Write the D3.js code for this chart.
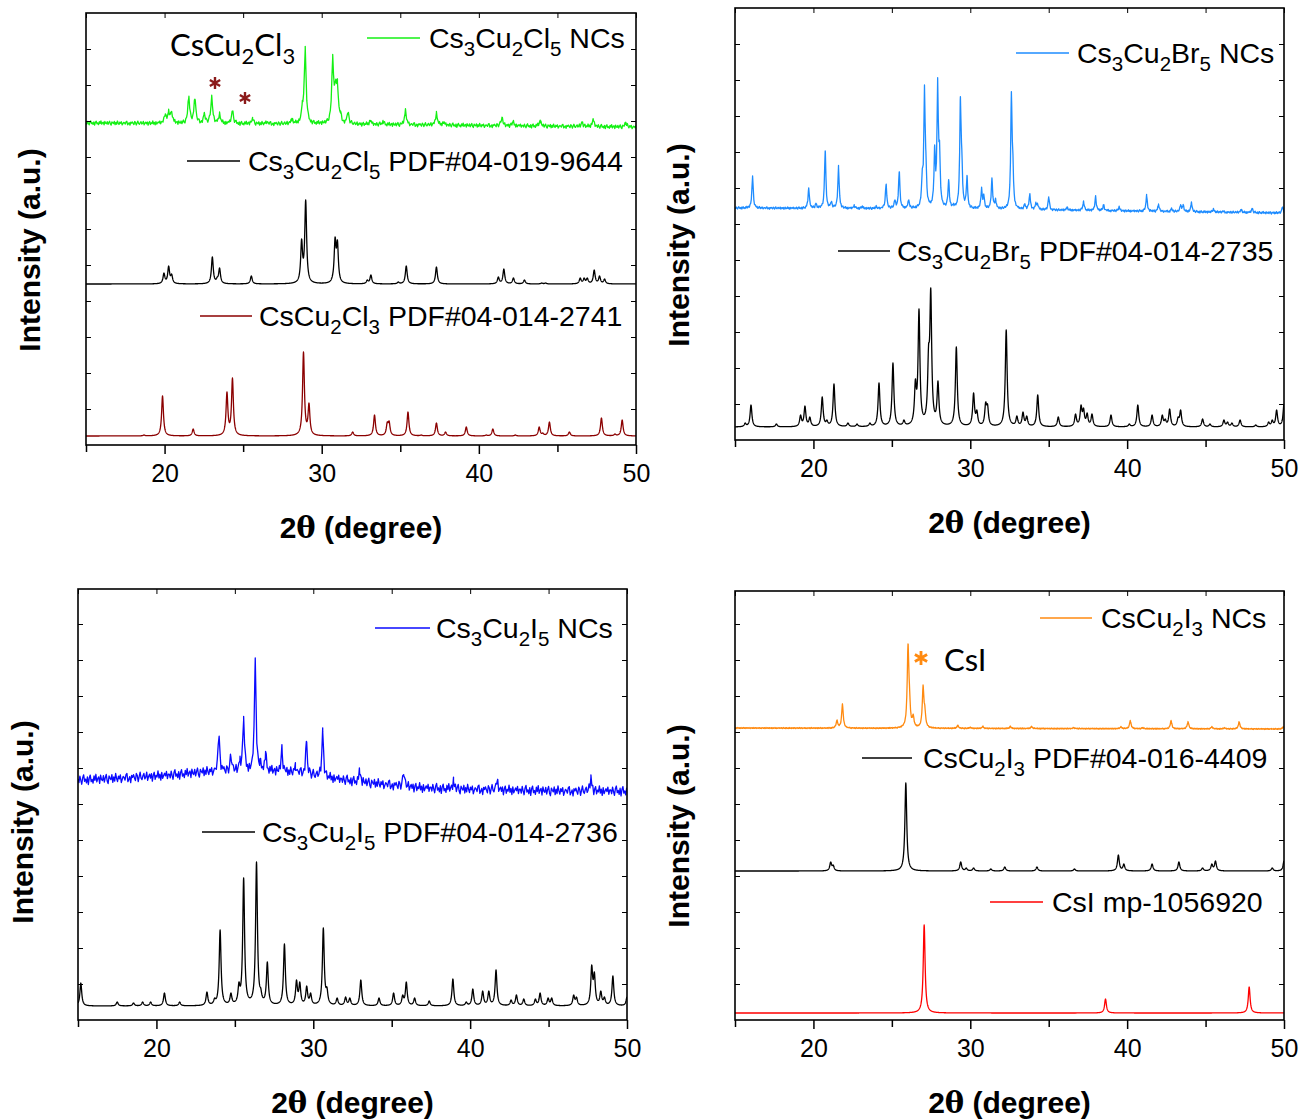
<!DOCTYPE html>
<html>
<head>
<meta charset="utf-8">
<script src="https://cdn.jsdelivr.net/npm/d3@7"></script>
<style>
  body { margin: 0; background: #fff; }
  svg { font-family: Arial, "Liberation Sans", sans-serif; }
</style>
</head>
<body>
<script>
// ---- data: peaks as [2theta, apex height (a.u.)], backgrounds as [2theta, level] ----

// Cs3Cu2Cl5 panel
var clNCsPeaks = [[20.03,9],[20.26,13],[20.45,12],[21.54,27],[21.93,26],[22.53,10],[23.0,27],[23.5,10],
  [24.32,13],[25.6,5],[26.5,2],[28.1,5],[28.77,22],[28.95,76],[30.7,69],[30.88,45],[31.0,44],[31.2,12],
  [31.67,12],[33.1,4],[33.9,3],[35.33,14],[37.3,12],[37.76,3],[41.47,8],[42.17,4],[43.9,5],[46.57,4],
  [47.27,7],[49.35,4]];
var clNCsBg = [[15,322],[30,321],[50,318]];
var clPdfPeaks = [[19.96,11],[20.26,18],[20.45,10],[23.04,27],[23.35,7],[23.5,16],[25.52,8],[28.72,45],
  [28.98,84],[30.69,9],[30.85,47],[31.0,44],[32.9,4],[33.13,9],[34.87,2],[35.38,18],[37.3,17],[41.24,7],
  [41.59,15],[42.2,6],[42.9,4],[44.0,1],[44.25,1],[46.45,6],[46.7,6],[46.9,6],[47.34,14],[47.68,8],[48.0,5]];
var clPdfBg = [[15,161],[50,161]];
var cuClPdfPeaks = [[18.69,1],[19.87,40],[21.82,7],[23.97,44],[24.32,58],[28.84,84],[29.19,33],[31.97,4],
  [33.36,21],[34.17,14],[34.29,15],[35.49,24],[36.33,1],[37.3,13],[37.88,4],[39.2,9],[40.47,1],[40.89,7],
  [42.32,1],[43.84,9],[44.07,3],[44.49,14],[45.76,4],[47.8,18],[48.66,2],[49.12,16]];
var cuClPdfBg = [[15,9],[50,9]];

// Cs3Cu2Br5 panel
var brNCsPeaks = [[16.12,32],[19.7,20],[20.16,5],[20.75,58],[21.14,7],[21.6,42],[22.6,3],[23.1,2],[24.0,2],
  [24.63,25],[25.19,9],[25.47,38],[26.07,9],[26.94,40],[27.08,124],[27.17,57],[27.73,64],[27.92,131],
  [28.04,69],[28.62,29],[28.93,5],[29.37,113],[29.46,60],[29.79,33],[30.72,21],[30.86,15],[31.38,31],
  [31.61,11],[32.62,117],[32.71,59],[33.48,6],[33.79,16],[34.18,7],[34.3,6],[35.0,13],[36.17,3],[37.22,9],
  [37.99,14],[38.5,6],[39.49,4],[41.24,16],[42.0,7],[42.83,3],[43.41,7],[43.57,7],[44.1,9],[45.5,3],
  [46.1,1],[47.27,3],[47.97,4],[49.9,6]];
var brNCsBg = [[15,232],[30,231],[40,229],[50,227]];
var brPdfPeaks = [[15.65,4],[16.02,22],[17.64,3],[19.18,12],[19.46,21],[19.77,10],[20.56,30],[20.86,7],
  [21.31,43],[22.2,4],[22.78,3],[23.6,4],[24.18,44],[25.07,64],[25.77,7],[26.5,48],[26.73,118],[27.34,82],
  [27.48,139],[27.69,17],[27.94,46],[29.11,80],[30.21,34],[30.42,17],[30.98,25],[31.1,23],[32.29,97],
  [32.97,11],[33.36,15],[33.6,11],[34.3,32],[35.61,10],[36.71,13],[37.06,22],[37.22,19],[37.45,14],
  [37.76,13],[38.97,12],[40.14,3],[40.68,22],[41.59,12],[42.24,12],[42.43,8],[42.71,18],[43.25,10],
  [43.41,17],[44.81,8],[45.28,3],[46.17,7],[46.4,5],[46.68,4],[47.2,7],[48.2,2],[49.02,5],[49.25,7],
  [49.53,17],[50.0,23]];
var brPdfBg = [[15,13],[50,13]];

// Cs3Cu2I5 panel
var iNCsPeaks = [[23.99,38],[24.75,15],[25.33,12],[25.56,54],[26.3,112],[26.6,10],[26.96,18],[28.0,23],
  [28.86,7],[29.56,33],[30.6,47],[32.96,10],[35.77,13],[38.94,8],[41.72,9],[47.7,14]];
var iNCsBg = [[15,240],[18,242],[21,245],[23,248],[25,249],[27,249],[29,247],[31,242],[33,238],[35,235],
  [37,232],[39,231],[42,230],[46,229],[50,229]];
var iPdfPeaks = [[15.18,23],[17.5,4],[18.54,3],[19.12,4],[19.63,4],[20.51,13],[21.48,4],[23.22,14],[23.71,8],
  [24.06,76],[24.75,13],[25.26,24],[25.56,128],[26.38,144],[26.65,18],[27.07,44],[28.16,62],[28.93,26],
  [29.14,24],[29.58,20],[29.83,13],[30.64,78],[30.87,19],[31.52,8],[32.06,9],[32.33,8],[33.03,26],[34.19,8],
  [35.12,13],[35.7,11],[35.93,24],[36.46,8],[37.39,5],[38.9,27],[39.75,4],[40.17,17],[40.8,15],[41.19,15],
  [41.65,36],[42.61,6],[42.95,11],[43.42,7],[44.16,7],[44.46,13],[44.97,8],[45.2,8],[46.6,11],[46.78,9],
  [47.75,41],[47.92,34],[48.33,15],[48.56,9],[49.1,30],[50.0,9]];
var iPdfBg = [[15,14],[50,14]];

// CsCu2I3 panel
var cuINCsPeaks = [[21.5,8],[21.85,24],[26.03,85],[26.12,44],[26.36,14],[26.99,43],[27.1,23],[29.2,3],
  [30.0,1],[30.8,2],[32.55,2],[33.9,2],[36.6,1],[39.6,2],[40.2,8],[41.0,1],[42.8,8],[43.88,7],[45.4,2],
  [46.2,1],[47.14,7],[49.95,2]];
var cuINCsBg = [[15,292],[50,291]];
var cuIPdfPeaks = [[21.1,9],[21.26,6],[25.89,88],[29.39,9],[29.74,3],[30.21,3],[31.31,2],[32.2,4],[34.25,4],
  [36.64,2],[39.44,16],[39.79,7],[41.59,7],[43.3,9],[44.81,3],[45.4,7],[45.63,10],[49.25,3],[50.0,10]];
var cuIPdfBg = [[15,149],[50,149]];
var csIPeaks = [[27.06,88],[38.62,14],[47.78,26]];
var csIBg = [[15,7],[50,7]];

// hand-read jitter texture for the measured (NCs) scans
var noiseTex = [0.2,-0.5,0.7,-0.1,-0.8,0.4,0.9,-0.3,0.1,-0.6,0.5,-0.9,0.3,0.8,-0.4,0.0,-0.7,0.6,-0.2,0.9,
  -0.5,0.1,0.4,-0.8,0.7,-0.1,-0.3,0.6,-0.6,0.2,0.8,-0.4,-0.9,0.5,0.1,-0.2,0.7,-0.7,0.3,-0.5,0.9,0.0,-0.6,
  0.4,-0.1,0.6,-0.8,-0.2,0.3,0.1,-0.4,0.6,0.8,-0.7,-0.3,0.2,-0.9,0.4,0.0,0.5,-0.1,-0.6,0.7,0.3,-0.8,0.1,
  0.9,-0.2,-0.5,0.2,0.6,-0.4,-0.1,0.8,-0.7,0.0,0.4,-0.3,0.5,-0.9,0.2,0.7,-0.6,0.1,-0.2,0.9,-0.4,0.3,-0.8,
  0.6,-0.5,0.0,0.4,-0.1,0.7,-0.6,0.2];

var xDomain = [15, 50];
var majorTicks = [20, 30, 40, 50];
var minorTicks = [15, 25, 35, 45];

// ---- layout ----
var panels = [
  { x0: 86, x1: 636, y0: 13, y1: 445, yt: [40, 250],
    traces: [
      { peaks: clNCsPeaks, bg: clNCsBg, color: '#14f014', hw: 0.07, step: 0.05, amp: 2.3,
        label: 'Cs_3Cu_2Cl_5 NCs', lx: [367, 420], ly: 38, tx: 429 },
      { peaks: clPdfPeaks, bg: clPdfBg, color: '#000', hw: 0.07, step: 0.01, amp: 0,
        label: 'Cs_3Cu_2Cl_5 PDF#04-019-9644', lx: [187, 240], ly: 161, tx: 248 },
      { peaks: cuClPdfPeaks, bg: cuClPdfBg, color: '#8b0000', hw: 0.07, step: 0.01, amp: 0,
        label: 'CsCu_2Cl_3 PDF#04-014-2741', lx: [200, 252], ly: 316, tx: 259 }
    ] },
  { x0: 735, x1: 1284, y0: 8, y1: 440, yt: [689, 245],
    traces: [
      { peaks: brNCsPeaks, bg: brNCsBg, color: '#1e8cff', hw: 0.05, step: 0.04, amp: 1.3,
        label: 'Cs_3Cu_2Br_5 NCs', lx: [1016, 1069], ly: 53, tx: 1077 },
      { peaks: brPdfPeaks, bg: brPdfBg, color: '#000', hw: 0.07, step: 0.01, amp: 0,
        label: 'Cs_3Cu_2Br_5 PDF#04-014-2735', lx: [838, 890], ly: 251, tx: 897 }
    ] },
  { x0: 78, x1: 627, y0: 589, y1: 1020, yt: [33, 822],
    traces: [
      { peaks: iNCsPeaks, bg: iNCsBg, color: '#0a0aff', hw: 0.06, step: 0.06, amp: 5.5,
        label: 'Cs_3Cu_2I_5 NCs', lx: [375, 430], ly: 628, tx: 436 },
      { peaks: iPdfPeaks, bg: iPdfBg, color: '#000', hw: 0.07, step: 0.01, amp: 0,
        label: 'Cs_3Cu_2I_5 PDF#04-014-2736', lx: [202, 255], ly: 832, tx: 262 }
    ] },
  { x0: 735, x1: 1284, y0: 591, y1: 1020, yt: [689, 826],
    traces: [
      { peaks: cuINCsPeaks, bg: cuINCsBg, color: '#ff8a10', hw: 0.06, step: 0.03, amp: 0.6,
        label: 'CsCu_2I_3 NCs', lx: [1040, 1092], ly: 618, tx: 1101 },
      { peaks: cuIPdfPeaks, bg: cuIPdfBg, color: '#000', hw: 0.07, step: 0.01, amp: 0,
        label: 'CsCu_2I_3 PDF#04-016-4409', lx: [862, 912], ly: 758, tx: 923 },
      { peaks: csIPeaks, bg: csIBg, color: '#ff0000', hw: 0.07, step: 0.01, amp: 0,
        label: 'CsI mp-1056920', lx: [990, 1043], ly: 902, tx: 1052 }
    ] }
];

var svg = d3.select('body').append('svg').attr('width', 1302).attr('height', 1119);

function lor(t, c, hw) { var u = (t - c) / hw; return 1 / (1 + u * u); }

// scale the peak amplitudes so overlapping tails still give the read apex heights
function fitAmplitudes(peaks, hw) {
  var a = peaks.map(function (p) { return p[1]; });
  for (var it = 0; it < 40; it++) {
    a = peaks.map(function (p, i) {
      var s = d3.sum(peaks, function (q, j) { return a[j] * lor(p[0], q[0], hw); });
      return Math.max(0, a[i] + 0.6 * (p[1] - s));
    });
  }
  return a;
}

// build one scan from its peak list
function profile(peaks, bg, hw, step, amp) {
  var bgAt = d3.scaleLinear().domain(bg.map(function (d) { return d[0]; })).range(bg.map(function (d) { return d[1]; }));
  var a = fitAmplitudes(peaks, hw);
  var xs = d3.range(15, 50.0001, step).concat(peaks.map(function (p) { return p[0]; }))
    .filter(function (t) { return t >= 15 && t <= 50; }).sort(d3.ascending);
  return xs.map(function (t, i) {
    var v = bgAt(t);
    peaks.forEach(function (p, j) { v += a[j] * lor(t, p[0], hw); });
    if (amp) v += amp * noiseTex[i % noiseTex.length];
    return [t, v];
  });
}

// "Cs_3Cu_2Cl_5" -> tspans with subscripts
function richText(sel, str, subSize, shift) {
  var down = false;
  str.split(/(_\d)/).forEach(function (part) {
    if (!part) return;
    if (part[0] === '_') {
      sel.append('tspan').attr('dy', shift).attr('font-size', subSize).text(part.slice(1));
      down = true;
    } else {
      sel.append('tspan').attr('dy', down ? -shift : 0).text(part);
      down = false;
    }
  });
}

panels.forEach(function (p, k) {
  var x = d3.scaleLinear().domain(xDomain).range([p.x0, p.x1]);
  var y = d3.scaleLinear().domain([0, p.y1 - p.y0]).range([p.y1, p.y0]);
  var g = svg.append('g');
  var clipId = 'clip' + k;
  svg.append('clipPath').attr('id', clipId).append('rect')
    .attr('x', p.x0).attr('y', p.y0).attr('width', p.x1 - p.x0).attr('height', p.y1 - p.y0);

  var line = d3.line().x(function (d) { return x(d[0]); }).y(function (d) { return y(d[1]); });

  p.traces.forEach(function (tr) {
    g.append('path')
      .datum(profile(tr.peaks, tr.bg, tr.hw, tr.step, tr.amp))
      .attr('d', line)
      .attr('fill', 'none')
      .attr('stroke', tr.color)
      .attr('stroke-width', 1.3)
      .attr('stroke-linejoin', 'round')
      .attr('clip-path', 'url(#' + clipId + ')');

    g.append('line')
      .attr('x1', tr.lx[0]).attr('x2', tr.lx[1]).attr('y1', tr.ly).attr('y2', tr.ly)
      .attr('stroke', tr.color).attr('stroke-width', 1.4);
    var t = g.append('text').attr('x', tr.tx).attr('y', tr.ly + 10).attr('font-size', 28.5).attr('fill', '#000');
    richText(t, tr.label, 20.5, 8);
  });

  // bottom axis, ticks outward
  var bottom = g.append('g').attr('transform', 'translate(0,' + p.y1 + ')');
  bottom.call(d3.axisBottom(x).tickValues(majorTicks).tickSize(9).tickPadding(10).tickFormat(d3.format('d')));
  bottom.append('g').call(d3.axisBottom(x).tickValues(minorTicks).tickSize(7).tickFormat(''));
  bottom.selectAll('.domain').remove();
  bottom.attr('font-size', 25).attr('font-family', 'Arial, "Liberation Sans", sans-serif');
  bottom.selectAll('line').attr('stroke-width', 1.5);
  bottom.selectAll('text').attr('fill', '#000');

  // top axis, short ticks inward
  var top = g.append('g').attr('transform', 'translate(0,' + p.y0 + ')');
  top.call(d3.axisTop(x).tickValues(majorTicks.concat(minorTicks)).tickSize(-5).tickFormat(''));
  top.selectAll('.domain').remove();

  // left / right: unlabeled inward ticks
  var yTicks = d3.range(36, p.y1 - p.y0 - 5, 36);
  var left = g.append('g').attr('transform', 'translate(' + p.x0 + ',0)');
  left.call(d3.axisLeft(y).tickValues(yTicks).tickSize(-5).tickFormat(''));
  left.selectAll('.domain').remove();
  var right = g.append('g').attr('transform', 'translate(' + p.x1 + ',0)');
  right.call(d3.axisRight(y).tickValues(yTicks).tickSize(-5).tickFormat(''));
  right.selectAll('.domain').remove();

  g.append('rect')
    .attr('x', p.x0).attr('y', p.y0).attr('width', p.x1 - p.x0).attr('height', p.y1 - p.y0)
    .attr('fill', 'none').attr('stroke', '#000').attr('stroke-width', 1.6);

  // axis titles
  var xt = g.append('text')
    .attr('x', (p.x0 + p.x1) / 2).attr('y', p.y1 + 93)
    .attr('text-anchor', 'middle').attr('font-size', 30).attr('font-weight', 'bold');
  xt.append('tspan').text('2');
  xt.append('tspan').attr('font-family', '"DejaVu Serif", serif').attr('font-size', 29).text('θ');
  xt.append('tspan').text(' (degree)');

  g.append('text')
    .attr('transform', 'translate(' + p.yt[0] + ',' + p.yt[1] + ') rotate(-90)')
    .attr('text-anchor', 'middle').attr('font-size', 30).attr('font-weight', 'bold')
    .text('Intensity (a.u.)');
});

// annotations: secondary phase markers
var note = svg.append('text').attr('x', 170).attr('y', 56)
  .attr('font-family', 'Lato, "Open Sans", sans-serif').attr('font-size', 31);
richText(note, 'CsCu_2Cl_3', 22, 8);

var star = d3.symbol().type(d3.symbolAsterisk);
svg.append('path').attr('d', star.size(100)()).attr('transform', 'translate(215,83)')
  .attr('fill', 'none').attr('stroke', '#8b1a1a').attr('stroke-width', 2.4);
svg.append('path').attr('d', star.size(100)()).attr('transform', 'translate(245,98)')
  .attr('fill', 'none').attr('stroke', '#8b1a1a').attr('stroke-width', 2.4);

svg.append('path').attr('d', star.size(140)()).attr('transform', 'translate(921,658)')
  .attr('fill', 'none').attr('stroke', '#ff8a10').attr('stroke-width', 2.8);
svg.append('text').attr('x', 944).attr('y', 671)
  .attr('font-family', 'Lato, "Open Sans", sans-serif').attr('font-size', 31).text('CsI');
</script>
</body>
</html>
